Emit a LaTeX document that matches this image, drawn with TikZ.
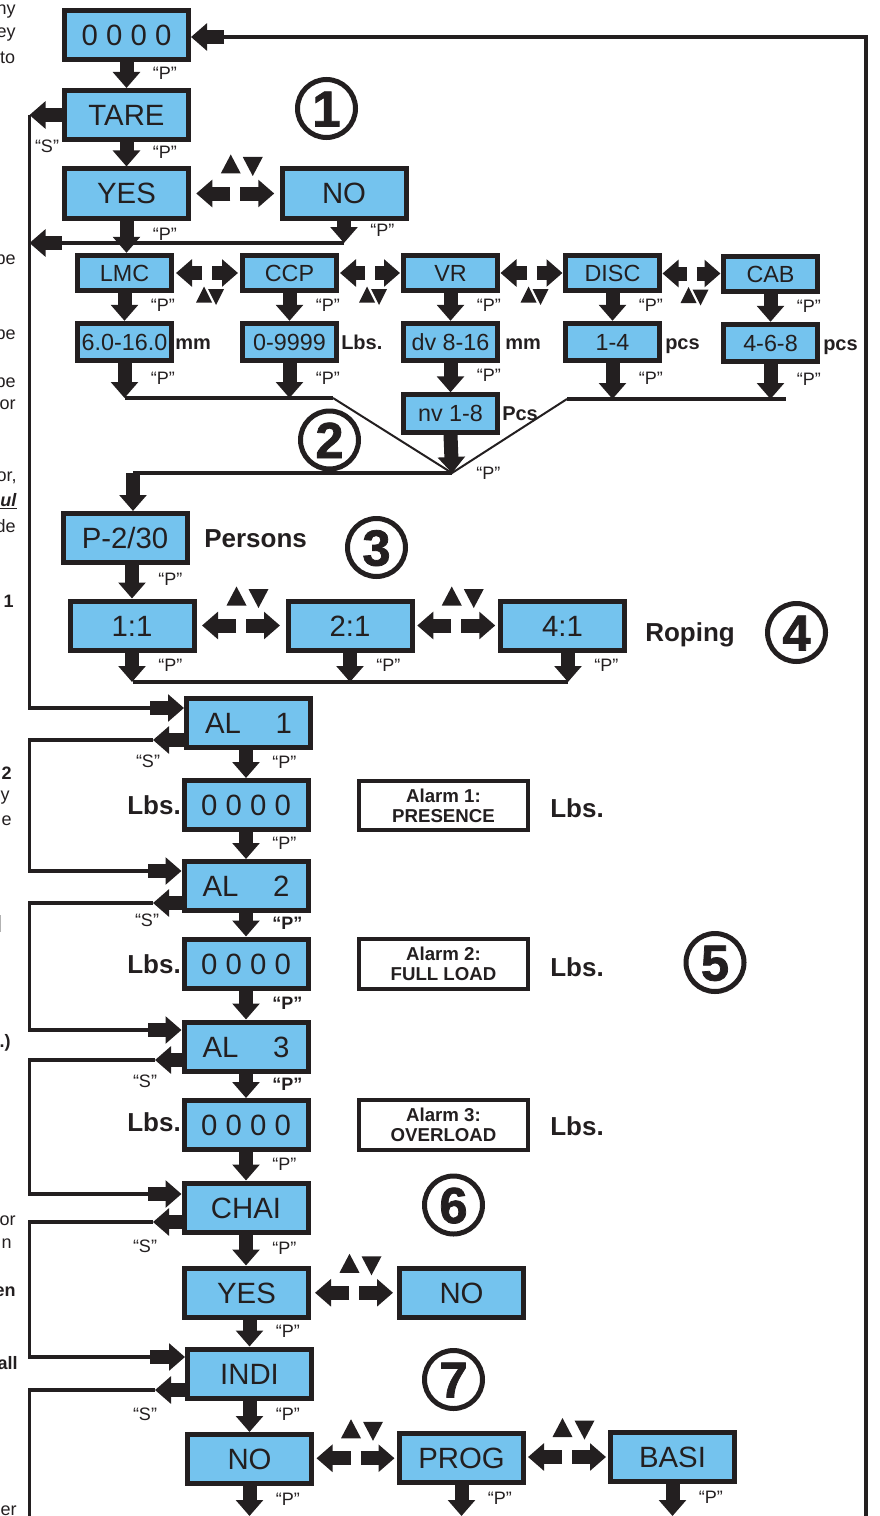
\documentclass[tikz,border=0pt]{standalone}
\usepackage{fontspec}
\setmainfont{Liberation Sans}
\newfontfamily\heavyfont{Liberation Sans}[BoldFeatures={FakeBold=1.5}]
\usetikzlibrary{arrows.meta}
\usetikzlibrary{calc}
\definecolor{lcd}{RGB}{116,195,238}
\definecolor{ink}{RGB}{35,31,32}

\tikzset{
  disp/.style={draw=ink, fill=lcd, line width=3.75pt, inner sep=0pt, text=ink,
    minimum width=93pt, minimum height=36.75pt, text height=15.75pt, text depth=0pt,
    font=\fontsize{22}{24}\selectfont},
  smalldisp/.style={disp, minimum width=70.5pt, minimum height=26.5pt, text height=12.5pt,
    font=\fontsize{17.5}{19}\selectfont},
  alarmbox/.style={draw=ink, fill=white, line width=3pt, inner sep=0pt, text=ink,
    minimum width=127pt, minimum height=37pt, align=center,
    font=\fontsize{14}{15}\selectfont\bfseries},
  fat/.style={draw=ink, line width=10.5pt, -{Triangle[length=12pt,width=20pt]}},
  wire/.style={draw=ink, line width=2.3pt},
  slant/.style={draw=ink, line width=1.5pt},
  plab/.style={inner sep=0pt, text=ink, text height=9.7pt, text depth=0pt,
    font=\fontsize{13.5}{14}\selectfont},
  unit/.style={inner sep=0pt, text=ink, text height=10.7pt, text depth=0pt,
    anchor=west, font=\fontsize{15}{16}\selectfont\bfseries},
  tag/.style={unit, text height=14pt, font=\fontsize{19.5}{20}\selectfont\bfseries},
  stepno/.style={circle, draw=ink, line width=3.75pt, minimum size=43.5pt, inner sep=0pt,
    text=ink, text height=27pt, text depth=0pt,
    font=\heavyfont\bfseries\fontsize{38}{38}\selectfont},
  frag/.style={anchor=east, inner sep=0pt, text=ink, font=\fontsize{13.5}{14}\selectfont},
  fragb/.style={frag, font=\fontsize{13.5}{14}\selectfont\bfseries},
  updown/.pic={
    \fill[ink] (-14.5,20) -- (5.5,20) -- (-4.5,39) -- cycle;
    \fill[ink] (7.5,36.5) -- (27.5,36.5) -- (17.5,17.5) -- cycle;
  },
  updownlow/.pic={
    \fill[ink] (-11,-29.5) -- (5,-29.5) -- (-3,-13.5) -- cycle;
    \fill[ink] (1,-16) -- (17,-16) -- (9,-32) -- cycle;
  },
}

% left and right keys between two displays
\newcommand{\swapkeys}[4]{%
  \coordinate (#1#2) at ($(#1.east)!0.5!(#2.west)$);
  \draw[fat] ($(#1#2)+(-5,0)$) -- ++(-#3,0);
  \draw[fat] ($(#1#2)+(5,0)$) -- ++(#3,0);
  \pic at (#1#2) {#4};
}

\begin{document}
\begin{tikzpicture}[x=0.75pt,y=0.75pt,yscale=-1,xscale=1]
\useasboundingbox (0,0) rectangle (880,1516);

\coordinate (rail) at (29.5,0);
\coordinate (bot) at (0,1516);

%Shape: Rectangle (displays)
\node[disp] (n0000) at (126.5,35) {0 0 0 0};
\node[disp] (tare) at (126.5,115) {TARE};
\node[disp] (yes1) at (126.5,193.5) {YES};
\node[disp] (no1) at (344,193.5) {NO};

\node[smalldisp] (lmc) at (124.5,273) {LMC};
\node[smalldisp] (ccp) at (289.5,273) {CCP};
\node[smalldisp] (vr) at (450.5,273) {VR};
\node[smalldisp] (disc) at (612.5,273) {DISC};
\node[smalldisp] (cab) at (770.5,274) {CAB};
\node[smalldisp, minimum height=28pt] (v1) at (124.5,342) {6.0-16.0};
\node[smalldisp, minimum height=28pt] (v2) at (289.5,342) {0-9999};
\node[smalldisp, minimum height=28pt] (v3) at (450.5,342) {dv 8-16};
\node[smalldisp, minimum height=28pt] (v4) at (612.5,342) {1-4};
\node[smalldisp, minimum height=28pt] (v5) at (770.5,343) {4-6-8};
\node[smalldisp, minimum height=28pt] (nv) at (450.5,413.5) {nv 1-8};

\node[disp] (pers) at (125,538) {P-2/30};
\node[disp] (r1) at (132,625.5) {1:1};
\node[disp] (r2) at (350,625.5) {2:1};
\node[disp] (r4) at (562.5,625.5) {4:1};

\node[disp] (al1) at (248.5,723) {AL\hspace{26pt}1};
\node[disp] (lb1) at (246,805) {0 0 0 0};
\node[disp] (al2) at (246,886) {AL\hspace{26pt}2};
\node[disp] (lb2) at (246,963.5) {0 0 0 0};
\node[disp] (al3) at (246,1046.5) {AL\hspace{26pt}3};
\node[disp] (lb3) at (246,1125) {0 0 0 0};
\node[disp] (chai) at (246,1207.5) {CHAI};
\node[disp] (yes2) at (246.5,1292.5) {YES};
\node[disp] (no2) at (461.5,1293) {NO};
\node[disp] (indi) at (249.5,1373.5) {INDI};
\node[disp] (no3) at (249.5,1459) {NO};
\node[disp] (prog) at (461.5,1457.5) {PROG};
\node[disp] (basi) at (672.5,1456.5) {BASI};

\node[alarmbox] (a1) at (443.5,805.5) {Alarm 1:\\PRESENCE};
\node[alarmbox] (a2) at (443.5,964) {Alarm 2:\\FULL LOAD};
\node[alarmbox] (a3) at (443.5,1125) {Alarm 3:\\OVERLOAD};

%Shape: Circle
\node[stepno] (c1) at (326.5,108.5) {1};
\node[stepno] (c2) at (329.5,440) {2};
\node[stepno] (c3) at (376.5,547.5) {3};
\node[stepno] (c4) at (796.5,632.5) {4};
\node[stepno] (c5) at (715,962.5) {5};
\node[stepno] (c6) at (453.5,1205) {6};
\node[stepno] (c7) at (453.5,1379.5) {7};

%Straight Lines (return to the top)
\coordinate (rtop) at (866,37);
\coordinate (rin) at (224,37);
\draw[wire] (rtop |- bot) -- (rtop) -- (rin);
\draw[fat] (rin) -- (rin -| n0000.east);

%Straight Lines ("S" rail on the left)
\coordinate (in1) at (150,708);
\draw[fat] (tare.west) -- (tare.west -| rail);
\draw[wire] (tare.west -| rail) |- (in1);
\draw[fat] (in1) -- (in1 -| al1.west);

\coordinate (jn) at (344,243);
\draw[wire] (jn) -- (jn -| yes1.west);
\draw[fat] (jn -| yes1.west) -- (jn -| rail);
\draw[fat] (no1) -- (jn) node[plab, pos=.42, right=14.6pt] {“P”};

\coordinate (s1) at (153,740);
\coordinate (in2) at (148,871);
\draw[fat] (al1.west |- s1) -- (s1);
\draw[wire] (s1) -- (s1 -| rail) |- (in2);
\draw[fat] (in2) -- (in2 -| al2.west);

\coordinate (s2) at (153,903);
\coordinate (in3) at (148,1030);
\draw[fat] (al2.west |- s2) -- (s2);
\draw[wire] (s2) -- (s2 -| rail) |- (in3);
\draw[fat] (in3) -- (in3 -| al3.west);

\coordinate (s3) at (155,1060);
\coordinate (in4) at (148,1194);
\draw[fat] (al3.west |- s3) -- (s3);
\draw[wire] (s3) -- (s3 -| rail) |- (in4);
\draw[fat] (in4) -- (in4 -| chai.west);

\coordinate (s4) at (153,1222);
\coordinate (in5) at (150,1357);
\draw[fat] (chai.west |- s4) -- (s4);
\draw[wire] (s4) -- (s4 -| rail) |- (in5);
\draw[fat] (in5) -- (in5 -| indi.west);

\coordinate (s5) at (155,1390);
\draw[fat] (indi.west |- s5) -- (s5);
\draw[wire] (s5) -- (s5 -| rail) -- (rail |- bot);

%Straight Lines (joins)
\coordinate (jl) at (124.5,398);
\coordinate (jlk) at (333,398);
\coordinate (jrk) at (567,399);
\coordinate (jr) at (786,399);
\coordinate (mp) at (452,473);
\coordinate (mpl) at (133,473);
\draw[wire] (jl) -- (jlk);
\draw[slant] (jlk) -- (mp) -- (jrk);
\draw[wire] (jrk) -- (jr);
\draw[wire] (mp) -- (mpl);

\coordinate (rj1) at (133,682);
\coordinate (rj4) at (568,682);
\draw[wire] (rj1) -- (rj4);

%Straight Lines ("P" steps)
\draw[fat] (n0000) -- (tare) node[plab, pos=.42, right=14.6pt] {“P”};
\draw[fat] (tare) -- (yes1) node[plab, pos=.42, right=14.6pt] {“P”};
\draw[fat] (yes1.south) -- (yes1.south |- lmc.north) node[plab, pos=.42, right=14.6pt] {“P”};
\draw[fat] (lmc) -- (v1) node[plab, pos=.42, right=14.6pt] {“P”};
\draw[fat] (ccp) -- (v2) node[plab, pos=.42, right=14.6pt] {“P”};
\draw[fat] (vr) -- (v3) node[plab, pos=.42, right=14.6pt] {“P”};
\draw[fat] (disc) -- (v4) node[plab, pos=.42, right=14.6pt] {“P”};
\draw[fat] (cab) -- (v5) node[plab, pos=.42, right=14.6pt] {“P”};
\draw[fat] (v1) -- (v1.south |- jl) node[plab, pos=.42, right=14.6pt] {“P”};
\draw[fat] (v2) -- (v2.south |- jl) node[plab, pos=.42, right=14.6pt] {“P”};
\draw[fat] (v3) -- (nv) node[plab, pos=.42, right=14.6pt] {“P”};
\draw[fat] (v4) -- (v4.south |- jr) node[plab, pos=.42, right=14.6pt] {“P”};
\draw[fat] (v5) -- (v5.south |- jr) node[plab, pos=.42, right=14.6pt] {“P”};
\draw[fat] (nv.south) -- (mp) node[plab, pos=1, right=13pt] {“P”};
\draw[fat] (mpl) -- (mpl |- pers.north);

\draw[fat] (r1.north |- pers.south) -- (r1.north) node[plab, pos=.42, right=14.6pt] {“P”};
\draw[fat] (r1) -- (r1.south |- rj1) node[plab, pos=.42, right=14.6pt] {“P”};
\draw[fat] (r2) -- (r2.south |- rj1) node[plab, pos=.42, right=14.6pt] {“P”};
\draw[fat] (rj4 |- r4.south) -- (rj4) node[plab, pos=.42, right=14.6pt] {“P”};

\draw[fat] (lb1.north |- al1.south) -- (lb1.north) node[plab, pos=.42, right=14.6pt] {“P”};
\draw[fat] (lb1) -- (al2) node[plab, pos=.42, right=14.6pt] {“P”};
\draw[fat] (al2) -- (lb2) node[plab, pos=.42, right=14.6pt] {\bfseries “P”};
\draw[fat] (lb2) -- (al3) node[plab, pos=.42, right=14.6pt] {\bfseries “P”};
\draw[fat] (al3) -- (lb3) node[plab, pos=.42, right=14.6pt] {\bfseries “P”};
\draw[fat] (lb3) -- (chai) node[plab, pos=.42, right=14.6pt] {“P”};
\draw[fat] (chai) -- (yes2.north -| chai) node[plab, pos=.42, right=14.6pt] {“P”};
\draw[fat] (indi.north |- yes2.south) -- (indi.north) node[plab, pos=.42, right=14.6pt] {“P”};
\draw[fat] (indi) -- (no3) node[plab, pos=.42, right=14.6pt] {“P”};
\draw[fat] (no3.south) -- (no3.south |- bot) node[plab, pos=.42, right=14.6pt] {“P”};
\draw[fat] (prog.south) -- (prog.south |- bot) node[plab, pos=.42, right=14.6pt] {“P”};
\draw[fat] (basi.south) -- (basi.south |- bot) node[plab, pos=.42, right=14.6pt] {“P”};

%Straight Lines (arrow keys)
\swapkeys{yes1}{no1}{34}{updown}
\swapkeys{lmc}{ccp}{26}{updownlow}
\swapkeys{ccp}{vr}{25}{updownlow}
\swapkeys{vr}{disc}{26}{updownlow}
\swapkeys{disc}{cab}{24}{updownlow}
\swapkeys{r1}{r2}{34}{updown}
\swapkeys{r2}{r4}{34}{updown}
\swapkeys{yes2}{no2}{34}{updown}
\swapkeys{no3}{prog}{34}{updown}
\swapkeys{prog}{basi}{34}{updown}

% Text Node
\node[plab] (st) at (47,146) {“S”};
\node[plab] (sa1) at (148,761) {“S”};
\node[plab] (sa2) at (147,920) {“S”};
\node[plab] (sa3) at (145,1081) {“S”};
\node[plab] (sch) at (145,1246) {“S”};
\node[plab] (sin) at (145,1414) {“S”};

% Text Node
\node[unit] (u1) at (175,342) {mm};
\node[unit] (u2) at (341,342) {Lbs.};
\node[unit] (u3) at (505,342) {mm};
\node[unit] (u4) at (665,342) {pcs};
\node[unit] (u5) at (823,343) {pcs};
\node[unit] (u6) at (502,413) {Pcs};
\node[tag] (persons) at (204,538) {Persons};
\node[tag] (roping) at (645,632) {Roping};
\node[tag, anchor=east] (lbl1) at (181,805) {Lbs.};
\node[tag, anchor=east] (lbl2) at (181,964) {Lbs.};
\node[tag, anchor=east] (lbl3) at (181,1122) {Lbs.};
\node[tag] (lbr1) at (550,808) {Lbs.};
\node[tag] (lbr2) at (550,967) {Lbs.};
\node[tag] (lbr3) at (550,1126) {Lbs.};

% Text Node (text running in from the left edge)
\node[frag] (f1) at (16,12) {ny};
\node[frag] (f2) at (16,35) {ey};
\node[frag] (f3) at (15.5,58) {to};
\node[frag] (f4) at (16,258) {be};
\node[frag] (f5) at (16,333) {be};
\node[frag] (f6) at (16,381) {be};
\node[frag] (f7) at (16,405) {or};
\node[frag] (f8) at (17,478) {or,};
\node[frag] (f9) at (17,501) {\underline{\textbf{\textit{ul}}}};
\node[frag] (f10) at (16,526) {de};
\node[fragb] (f11) at (14,601) {1};
\node[fragb] (f12) at (12,773) {2};
\node[frag] (f13) at (10,798) {y};
\node[frag] (f14) at (12,821) {e};
\draw[gray!60, line width=1pt] (0.5,915) -- (0.5,932);
\node[fragb] (f15) at (11,1043) {.)};
\node[frag] (f16) at (16,1221) {or};
\node[frag] (f17) at (12,1244) {n};
\node[fragb] (f18) at (16,1292) {en};
\node[fragb] (f19) at (18,1363) {all};
\node[frag] (f20) at (17,1511) {er};

\end{tikzpicture}
\end{document}
